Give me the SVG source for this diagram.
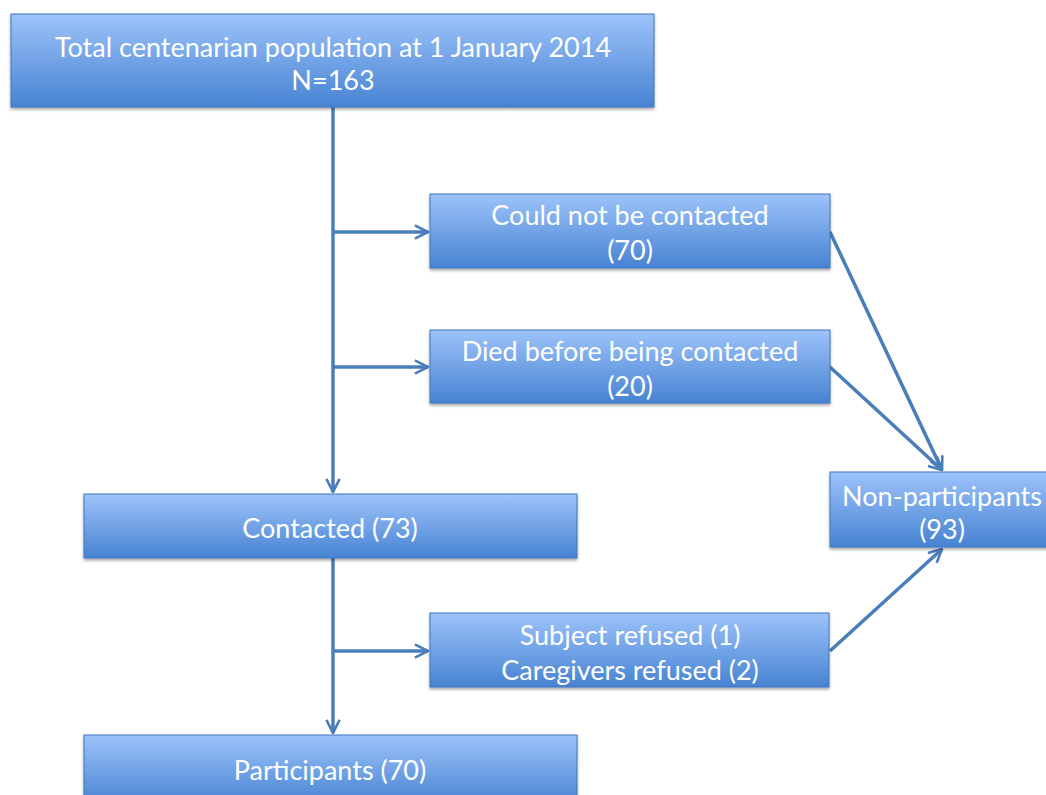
<svg xmlns="http://www.w3.org/2000/svg" width="1046" height="795" viewBox="0 0 1046 795">
<defs>
<linearGradient id="g" x1="0" y1="0" x2="0" y2="1">
<stop offset="0" stop-color="#9dc3fa"/>
<stop offset="1" stop-color="#4783d2"/>
</linearGradient>
<filter id="sh" x="-5%" y="-5%" width="110%" height="130%">
<feDropShadow dx="0" dy="2" stdDeviation="1.5" flood-color="#000" flood-opacity="0.35"/>
</filter>
<marker id="ar" viewBox="0 0 12 12" refX="11" refY="6" markerWidth="4.5" markerHeight="4.5" orient="auto" markerUnits="strokeWidth">
<path d="M1,1 L11,6 L1,11" fill="none" stroke="#4a7ebb" stroke-width="2"/>
</marker>
</defs>
<style>
.box{fill:url(#g);stroke:#3f75bd;stroke-width:1;filter:url(#sh)}
.t{font-family:Lato,"Open Sans",sans-serif;font-size:27px;fill:#fff;text-anchor:middle}
.c{fill:none;stroke:#4a7ebb;stroke-width:3.5}
</style>
<rect width="1046" height="795" fill="#fff"/>
<g id="connectors">
<path class="c" d="M333,107 V492" marker-end="url(#ar)"/>
<path class="c" d="M333,232 H428" marker-end="url(#ar)"/>
<path class="c" d="M333,367 H428" marker-end="url(#ar)"/>
<path class="c" d="M333,558 V733" marker-end="url(#ar)"/>
<path class="c" d="M333,651 H428" marker-end="url(#ar)"/>
<path class="c" d="M830,232 L942,470" marker-end="url(#ar)"/>
<path class="c" d="M830,367 L942,470" marker-end="url(#ar)"/>
<path class="c" d="M830,651 L942,549" marker-end="url(#ar)"/>
</g>
<g id="total">
<rect class="box" x="11" y="14" width="643" height="93"/>
<text class="t" x="333" y="57">Total centenarian population at 1 January 2014</text>
<text class="t" x="333" y="90">N=163</text>
</g>
<g id="notcontacted">
<rect class="box" x="430" y="194" width="400" height="74"/>
<text class="t" x="630" y="225">Could not be contacted</text>
<text class="t" x="630" y="260">(70)</text>
</g>
<g id="died">
<rect class="box" x="430" y="330" width="400" height="73"/>
<text class="t" x="630" y="361">Died before being contacted</text>
<text class="t" x="630" y="396">(20)</text>
</g>
<g id="contacted">
<rect class="box" x="84" y="494" width="493" height="64"/>
<text class="t" x="330" y="538">Contacted (73)</text>
</g>
<g id="nonparticipants">
<rect class="box" x="830" y="472" width="220" height="75"/>
<text class="t" x="942" y="506">Non-participants</text>
<text class="t" x="942" y="539">(93)</text>
</g>
<g id="refused">
<rect class="box" x="430" y="613" width="399" height="74"/>
<text class="t" x="630" y="645">Subject refused (1)</text>
<text class="t" x="630" y="680">Caregivers refused (2)</text>
</g>
<g id="participants">
<rect class="box" x="84" y="735" width="493" height="70"/>
<text class="t" x="330" y="780">Participants (70)</text>
</g>
</svg>
